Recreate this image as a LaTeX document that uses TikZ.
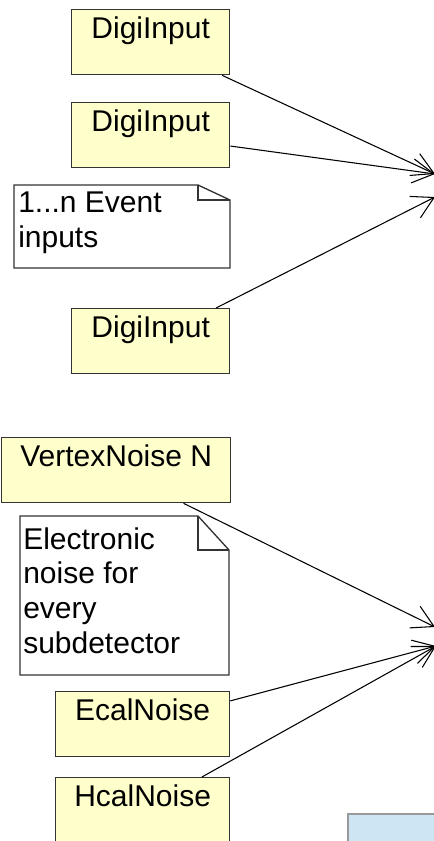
\documentclass[tikz,border=0pt]{standalone}
\usepackage{fontspec}
\setmainfont{Liberation Sans}
\usetikzlibrary{arrows.meta,positioning}

\definecolor{compfill}{RGB}{255,255,204}
\definecolor{procfill}{RGB}{206,229,244}

\begin{document}
\begin{tikzpicture}[x=0.75pt,y=-0.75pt,
    font=\fontsize{22.5pt}{26pt}\selectfont,
    comp/.style={draw=black!80, line width=1pt, fill=compfill, anchor=north west,
        inner sep=0pt, minimum width=#1, text height=21.75pt, text depth=27pt},
    notetext/.style={anchor=north west, inner sep=0pt, align=left},
    notebox/.style={draw=black!80, line width=1pt, fill=white},
    link/.style={line width=0.8pt, -{Straight Barb[length=16pt,width=18pt]}}]
    \useasboundingbox (0,0) rectangle (434,841);
    \clip (0,0) rectangle (434,841);

    % event inputs
    \node[comp=118.5pt] (digi1) at (71,9) {DigiInput};
    \node[comp=118.5pt] (digi2) at (71,102) {DigiInput};
    \node[comp=118.5pt] (digi3) at (71,308) {DigiInput};
    \draw[notebox] (14,185) -- (198,185) -- (230,200) -- (230,268) -- (14,268) -- cycle;
    \draw[line width=1pt, draw=black!80] (198,185) -- (198,200) -- (230,200);
    \node[notetext] (evtnote) at (18,192) {1...n Event\\inputs};

    % noise inputs
    \node[comp=171.75pt] (vtxnoise) at (1,437) {VertexNoise N};
    \node[comp=130.5pt] (ecalnoise) at (55,691) {EcalNoise};
    \node[comp=130.5pt] (hcalnoise) at (55,777) {HcalNoise};
    \draw[notebox] (20,516) -- (198,516) -- (229,550) -- (229,675) -- (20,675) -- cycle;
    \draw[line width=1pt, draw=black!80] (198,516) -- (198,550) -- (229,550);
    \node[notetext] (noisenote) at (23,527) {Electronic\\noise for\\every\\subdetector};

    \node[draw=black!40, line width=1.5pt, fill=procfill, anchor=north west,
        minimum width=90pt, minimum height=40pt] (mixer) at (347,813) {};

    % connectors
    \coordinate (evtin) at (435,174);
    \coordinate (evtin2) at (435,197);
    \coordinate (noisein) at (435,627);
    \coordinate (noisein2) at (436,646);
    \draw[link] (digi1) -- (evtin);
    \draw[link] (digi2) -- (evtin);
    \draw[link] (digi3) -- (evtin2);
    \draw[link] (vtxnoise) -- (noisein);
    \draw[link] (ecalnoise) -- (noisein2);
    \draw[link] (hcalnoise) -- (noisein2);
\end{tikzpicture}
\end{document}
